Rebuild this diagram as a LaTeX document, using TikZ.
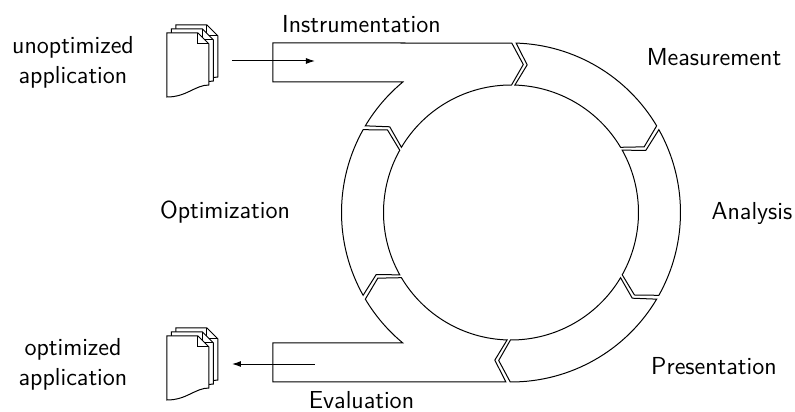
\documentclass[tikz,border=0pt]{standalone}
\usepackage{tikz}
\usetikzlibrary{arrows.meta}
\newcommand{\rout}{16.95}
\newcommand{\rin}{12.75}
\newcommand{\rmid}{14.85}
\newcommand{\gp}{0.75}
\newcommand{\tp}{4.5}
% one piece of the ring, from chevron #1 to chevron #2
\newcommand{\ringpiece}[2]{%
  \draw ({#1-\gp}:\rout) arc[start angle=#1-\gp, end angle=#2+\gp, radius=\rout]
    -- ({#2+\gp-\tp}:\rmid) -- ({#2+\gp}:\rin)
    arc[start angle=#2+\gp, end angle=#1-\gp, radius=\rin]
    -- ({#1-\gp-\tp}:\rmid) -- cycle;}
% three pages, #1 is the top left corner of the front page
\newcommand{\docstack}[1]{%
  \foreach \dx/\dy in {0.9/0.8, 0.45/0.4, 0/0}{
    \draw[fill=white] (#1) ++(\dx,\dy) -- ++(3.1,0) -- ++(1.1,-1.1) -- ++(0,-4.1)
      .. controls +(-1.4,0) and +(2,0) .. ++(-4.2,-1.2) -- cycle;
    \draw (#1) ++(\dx,\dy) ++(3.1,0) -- ++(0,-1.1) -- ++(1.1,0);
  }}

\begin{document}
\begin{tikzpicture}[
    scale=.1757,
    line width=.5pt,
    lbl/.style={font=\sffamily\fontsize{12.3}{15}\selectfont, inner sep=0pt},
    flow/.style={-{Latex[length=4.5pt,width=3pt]}},
  ]
  \useasboundingbox (-51.1,-19.95) rectangle (28.4,21.25);

  % instrumentation: bar plus ring piece
  \draw ({150-\gp}:\rout) arc[start angle=150-\gp, end angle=129.65, radius=\rout]
    -- (-23.8,13.05) -- (-23.8,\rout) -- ({89+\gp}:\rout)
    -- ({89+\gp-\tp}:\rmid) -- ({89+\gp}:\rin)
    arc[start angle=89+\gp, end angle=150-\gp, radius=\rin]
    -- ({150-\gp-\tp}:\rmid) -- cycle;
  \ringpiece{89}{30}
  \ringpiece{30}{-30}
  \ringpiece{-30}{-91}
  % evaluation: ring piece plus bar
  \draw ({269-\gp}:\rout) -- (-23.8,-\rout) -- (-23.8,-13.05) -- (230.35:\rout)
    arc[start angle=230.35, end angle=210+\gp, radius=\rout]
    -- ({210+\gp-\tp}:\rmid) -- ({210+\gp}:\rin)
    arc[start angle=210+\gp, end angle=269-\gp, radius=\rin]
    -- ({269-\gp-\tp}:\rmid) -- cycle;
  \ringpiece{210}{150}

  \node[lbl, anchor=base] (instr) at (-14.95,17.95) {Instrumentation};
  \node[lbl, anchor=base] (meas) at (20.3,14.65) {Measurement};
  \node[lbl, anchor=base] (anal) at (24.1,-0.68) {Analysis};
  \node[lbl, anchor=base] (pres) at (20.3,-16.25) {Presentation};
  \node[lbl, anchor=base] (eval) at (-14.95,-19.65) {Evaluation};
  \node[lbl, anchor=base] (opt) at (-28.6,-0.58) {Optimization};

  \node[lbl, align=center] (unopt) at (-43.8,15.06) {unoptimized\\application};
  \node[lbl, align=center] (optapp) at (-43.8,-15.15) {optimized\\application};

  \docstack{-34.4,17.95}
  \docstack{-34.4,-12.35}

  \coordinate (srcout) at (-27.9,15.15);
  \coordinate (instrin) at (-19.6,15.15);
  \coordinate (evalin) at (-19.6,-15.15);
  \coordinate (dstout) at (-27.9,-15.15);
  \draw[flow] (srcout) -- (instrin);
  \draw[flow] (evalin) -- (dstout);
\end{tikzpicture}
\end{document}
